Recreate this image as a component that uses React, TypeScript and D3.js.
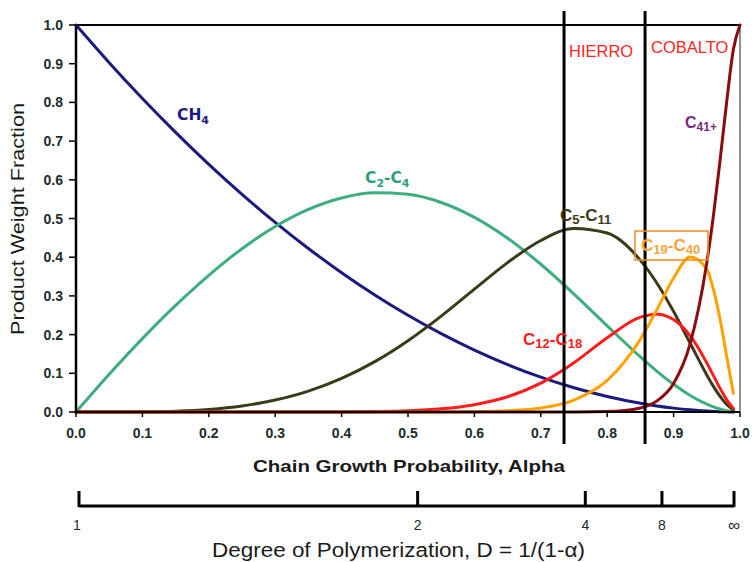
import React from 'react';
import * as d3 from 'd3';

// Chain growth probability (alpha) sample points
const alpha = [0, 0.05, 0.1, 0.15, 0.2, 0.25, 0.3, 0.35, 0.4, 0.45, 0.5, 0.55, 0.6, 0.65, 0.7, 0.75, 0.8, 0.85, 0.875, 0.9, 0.925, 0.95, 0.96, 0.97, 0.98, 0.99, 1.0];

// Product weight fractions
const ch4 = [1, 0.9025, 0.81, 0.7225, 0.64, 0.5625, 0.49, 0.4225, 0.36, 0.3025, 0.25, 0.2025, 0.16, 0.1225, 0.09, 0.0625, 0.04, 0.0225, 0.0156, 0.01, 0.0056, 0.0025, 0.0016, 0.0009, 0.0004, 0.0001];
const c2c4 = [0, 0.0975, 0.1895, 0.2753, 0.3533, 0.4219, 0.4792, 0.5235, 0.553, 0.5663, 0.5625, 0.5413, 0.503, 0.4491, 0.3818, 0.3047, 0.2227, 0.1423, 0.1051, 0.0715, 0.0427, 0.0201, 0.0132, 0.0076, 0.0034, 0.0009];
const c5c11 = [0, 0, 0.0005, 0.0022, 0.0067, 0.0156, 0.0308, 0.0539, 0.0867, 0.1301, 0.1843, 0.2479, 0.3174, 0.386, 0.4432, 0.4744, 0.4624, 0.3918, 0.3326, 0.2595, 0.1776, 0.0958, 0.0662, 0.0402, 0.0193, 0.0052];
const c12c18 = [0, 0, 0, 0, 0, 0, 0, 0, 0.0003, 0.0011, 0.0031, 0.0081, 0.0188, 0.0393, 0.0746, 0.1274, 0.192, 0.245, 0.2529, 0.2388, 0.1966, 0.1269, 0.0941, 0.0613, 0.0315, 0.0091];
const c19c40 = [0, 0, 0, 0, 0, 0, 0, 0, 0, 0, 0, 0.0002, 0.0008, 0.0031, 0.0104, 0.0309, 0.0817, 0.188, 0.265, 0.3463, 0.4007, 0.3692, 0.317, 0.2395, 0.1431, 0.0482];
const c41 = [0, 0, 0, 0, 0, 0, 0, 0, 0, 0, 0, 0, 0, 0, 0, 0.0001, 0.0012, 0.0105, 0.0287, 0.0739, 0.1769, 0.3855, 0.5079, 0.6506, 0.8023, 0.9366, 1.0];

const seriesNames = ['CH4', 'C2-C4', 'C5-C11', 'C12-C18', 'C19-C40', 'C41+'];
const seriesValues = [ch4, c2c4, c5c11, c12c18, c19c40, c41];
const seriesColors = ['#1b1b7e', '#3fae7e', '#3b3b1a', '#ff1c1c', '#ffa200', '#8a0c0c'];

const yTicks = [0, 0.1, 0.2, 0.3, 0.4, 0.5, 0.6, 0.7, 0.8, 0.9, 1.0];
const xTicks = [0, 0.1, 0.2, 0.3, 0.4, 0.5, 0.6, 0.7, 0.8, 0.9, 1.0];

// Catalyst region separators (alpha)
const regionBounds = [0.735, 0.857];

// Degree of polymerization axis
const dLabels = ['1', '2', '4', '8', '\u221E'];
const dPositions = [0, 0.517, 0.773, 0.89, 1];

const SANS = '"Liberation Sans", Arial, sans-serif';
const DJV = '"DejaVu Sans", Verdana, sans-serif';
const TICK_COLOR = '#1c2c2c';

export default function App() {
  const W = 752;
  const H = 562;
  const x = d3.scaleLinear().domain([0, 1]).range([76, 740]);
  const y = d3.scaleLinear().domain([0, 1]).range([412, 25]);
  const xd = d3.scaleLinear().domain([0, 1]).range([79, 734]);

  const line = d3
    .line<[number, number]>()
    .x((d) => x(d[0]))
    .y((d) => y(d[1]))
    .curve(d3.curveMonotoneX);

  const paths = seriesValues.map((vals, i) => {
    const pts: [number, number][] = vals.map((v, j) => [alpha[j], v]);
    return { name: seriesNames[i], color: seriesColors[i], d: line(pts) || '' };
  });

  return (
    <svg
      width={W}
      height={H}
      viewBox={`0 0 ${W} ${H}`}
      style={{ position: 'absolute', left: 0, top: 0, background: '#fff' }}
    >
      <rect x={0} y={0} width={W} height={H} fill="#fff" />

      {/* frame */}
      <line x1={x(0)} x2={x(1)} y1={y(1)} y2={y(1)} stroke="#000" strokeWidth={2} />
      <line x1={x(1)} x2={x(1)} y1={y(1)} y2={y(0)} stroke="#3a4a4a" strokeWidth={1.2} />

      {/* curves */}
      {paths.map((p) => (
        <path key={p.name} d={p.d} fill="none" stroke={p.color} strokeWidth={3} strokeLinejoin="round" strokeLinecap="round" />
      ))}

      {/* axes */}
      <line x1={x(0)} x2={x(0)} y1={y(1)} y2={y(0)} stroke="#000" strokeWidth={2.5} />
      <line x1={x(0)} x2={x(1)} y1={y(0)} y2={y(0)} stroke="#000" strokeWidth={2} />
      {yTicks.map((t) => (
        <g key={'y' + t}>
          <line x1={x(0) - 7} x2={x(0)} y1={y(t)} y2={y(t)} stroke="#000" strokeWidth={1.5} />
          <text x={63} y={y(t) + 5} textAnchor="end" fontFamily={SANS} fontWeight="bold" fontSize={14} fill={TICK_COLOR}>
            {t.toFixed(1)}
          </text>
        </g>
      ))}
      {xTicks.map((t) => (
        <g key={'x' + t}>
          <line x1={x(t)} x2={x(t)} y1={y(0)} y2={y(0) + 5} stroke="#000" strokeWidth={1.5} />
          <text x={x(t)} y={438} textAnchor="middle" fontFamily={SANS} fontWeight="bold" fontSize={14} fill={TICK_COLOR}>
            {t.toFixed(1)}
          </text>
        </g>
      ))}

      {/* region separators */}
      {regionBounds.map((b) => (
        <line key={'b' + b} x1={x(b)} x2={x(b)} y1={11} y2={444} stroke="#000" strokeWidth={3} />
      ))}

      {/* region labels */}
      <text x={569} y={57} fontFamily={SANS} fontSize={16.5} fill="#ff2626">HIERRO</text>
      <text x={651} y={53} fontFamily={SANS} fontSize={16.5} fill="#ff2626">COBALTO</text>

      {/* series labels */}
      <text x={177} y={120} fontFamily={DJV} fontWeight="bold" fontSize={15.5} fill="#1b1b7e">
        CH<tspan dy={4} fontSize={11}>4</tspan>
      </text>
      <text x={365} y={183} fontFamily={DJV} fontWeight="bold" fontSize={15.5} fill="#2f9e7a">
        C<tspan dy={4} fontSize={11}>2</tspan>
        <tspan dy={-4}>-C</tspan>
        <tspan dy={4} fontSize={11}>4</tspan>
      </text>
      <text x={560} y={221} fontFamily={SANS} fontWeight="bold" fontSize={17} fill="#3b3b1a">
        C<tspan dy={3} fontSize={13}>5</tspan>
        <tspan dy={-3}>-C</tspan>
        <tspan dy={3} fontSize={13}>11</tspan>
      </text>
      <text x={523} y={345} fontFamily={SANS} fontWeight="bold" fontSize={17} fill="#ff1c1c">
        C<tspan dy={3} fontSize={13}>12</tspan>
        <tspan dy={-3}>-C</tspan>
        <tspan dy={3} fontSize={13}>18</tspan>
      </text>
      <rect x={635} y={231} width={73} height={29} fill="none" stroke="#f08a20" strokeWidth={1.5} />
      <text x={641} y={251} fontFamily={SANS} fontWeight="bold" fontSize={17} fill="#f7a53a">
        C<tspan dy={3} fontSize={13}>19</tspan>
        <tspan dy={-3}>-C</tspan>
        <tspan dy={3} fontSize={13}>40</tspan>
      </text>
      <text x={685} y={128} fontFamily={SANS} fontWeight="bold" fontSize={16} fill="#7a2a84">
        C<tspan dy={3} fontSize={12}>41+</tspan>
      </text>

      {/* axis titles */}
      <text
        transform="translate(24,219) rotate(-90)"
        textAnchor="middle"
        fontFamily={SANS}
        fontSize={18}
        textLength={232}
        lengthAdjust="spacingAndGlyphs"
        fill="#1a1a1a"
      >
        Product Weight Fraction
      </text>
      <text x={253} y={472} fontFamily={SANS} fontWeight="bold" fontSize={16.5} textLength={312} lengthAdjust="spacingAndGlyphs" fill="#1a1a1a">
        Chain Growth Probability, Alpha
      </text>

      {/* degree of polymerization axis */}
      <line x1={xd(0)} x2={xd(1)} y1={506} y2={506} stroke="#000" strokeWidth={3} />
      {dPositions.map((p, i) => (
        <g key={'d' + i}>
          <line x1={xd(p)} x2={xd(p)} y1={491} y2={507} stroke="#000" strokeWidth={3} />
          <text x={xd(p) - (i === 0 ? 2 : 0)} y={i === 4 ? 531 : 530} textAnchor="middle" fontFamily={SANS} fontSize={i === 4 ? 17 : 14} fill={TICK_COLOR}>
            {dLabels[i]}
          </text>
        </g>
      ))}
      <text x={212} y={557} fontFamily={SANS} fontSize={20} textLength={373} lengthAdjust="spacingAndGlyphs" fill="#1a1a1a">
        Degree of Polymerization, D = 1/(1-α)
      </text>
    </svg>
  );
}
